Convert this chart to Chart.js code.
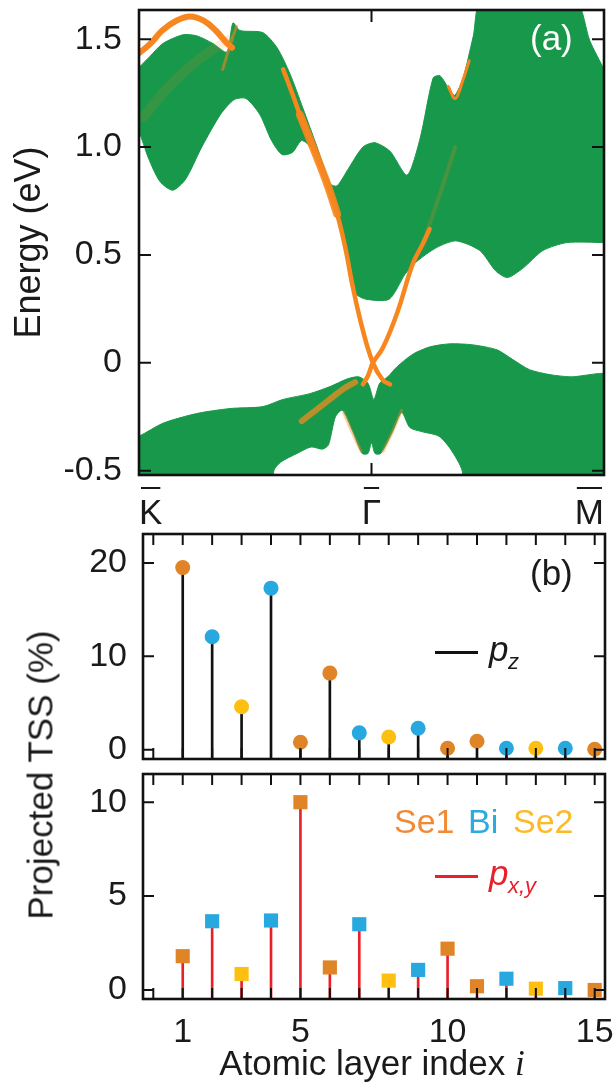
<!DOCTYPE html>
<html>
<head>
<meta charset="utf-8">
<script src="https://cdn.jsdelivr.net/npm/chart.js@4.4.1/dist/chart.umd.min.js"></script>
<style>
  html, body { margin: 0; padding: 0; background: #fff; }
  #wrap { position: relative; width: 614px; height: 1086px; overflow: hidden; font-family: "Liberation Sans", Arial, sans-serif; color: #1a1a1a; }
  canvas { position: absolute; left: 0; }
  .txt { position: absolute; white-space: nowrap; line-height: 1; z-index: 5; }
  .leg { position: absolute; height: 3px; width: 43px; z-index: 5; }
</style>
</head>
<body>
<div id="wrap">
  <canvas id="bandChart" width="614" height="530" style="top:0"></canvas>
  <canvas id="pzChart" width="614" height="250" style="top:520px"></canvas>
  <canvas id="pxyChart" width="614" height="326" style="top:760px"></canvas>

  <!-- panel labels and legends -->
  <div class="txt" style="left:530px;top:20px;font-size:35px;color:#fff">(a)</div>
  <div class="txt" style="left:530px;top:555px;font-size:35px">(b)</div>

  <div class="leg" style="left:435px;top:651px;background:#111"></div>
  <div class="txt" style="left:489px;top:631px;font-size:35px;font-style:italic">p</div>
  <div class="txt" style="left:508px;top:651px;font-size:22px;font-style:italic">z</div>

  <div class="txt" style="left:394px;top:804px;font-size:34px;color:#f28a35">Se1</div>
  <div class="txt" style="left:468px;top:804px;font-size:34px;color:#29abe2">Bi</div>
  <div class="txt" style="left:513px;top:804px;font-size:34px;color:#fdb927">Se2</div>

  <div class="leg" style="left:435px;top:875px;background:#e8202a"></div>
  <div class="txt" style="left:489px;top:855px;font-size:35px;font-style:italic;color:#e8202a">p</div>
  <div class="txt" style="left:508px;top:875px;font-size:22px;font-style:italic;color:#e8202a">x,y</div>

  <div class="txt" style="left:40px;top:775px;font-size:35px;transform:translate(-50%,-50%) rotate(-90deg)">Projected TSS (%)</div>
  <div class="txt" style="left:372px;top:1045px;font-size:35px;transform:translateX(-50%)">Atomic layer index <i style="font-family:'Liberation Serif',serif">i</i></div>
</div>

<script>
// ---- panel (a): band structure, k runs K(0) -> Gamma(1) -> M(2) ----
const kTicks = [0, 1, 2];
const kLabels = ['K', '\u0393', 'M'];   // high-symmetry points, drawn with an overbar
const energyTicks = [-0.5, 0, 0.5, 1.0, 1.5];
const energyLabels = ['-0.5', '0', '0.5', '1.0', '1.5'];

// bulk conduction continuum: upper edge (K->M) then lower edge (M->K)
const condTop = [[-0.05,1.33],[0,1.37],[0.047,1.42],[0.103,1.48],[0.189,1.52],[0.249,1.515],[0.318,1.48],[0.378,1.44],
  [0.404,1.575],[0.434,1.54],[0.533,1.53],[0.594,1.46],[0.649,1.34],[0.705,1.18],[0.766,1.0],[0.822,0.83],[0.852,0.82],
  [0.895,0.89],[0.963,1.0],[1.015,1.02],[1.08,0.98],[1.153,0.87],[1.209,1.04],[1.265,1.32],[1.295,1.33],[1.338,1.26],
  [1.359,1.24],[1.394,1.32],[1.437,1.51],[1.48,1.70],[1.867,1.70],[1.94,1.49],[2.0,1.36],[2.05,1.25]];
const condBottom = [[2.05,0.557],[2.0,0.557],[1.84,0.557],[1.737,0.52],[1.653,0.44],[1.585,0.395],[1.534,0.426],[1.466,0.52],
  [1.364,0.565],[1.28,0.534],[1.195,0.47],[1.144,0.41],[1.076,0.295],[0.975,0.295],[0.93,0.32],[0.912,0.36],[0.884,0.54],
  [0.85,0.69],[0.805,0.83],[0.745,0.99],[0.70,1.03],[0.66,0.975],[0.615,0.965],[0.57,1.03],[0.52,1.15],[0.46,1.225],
  [0.41,1.22],[0.35,1.15],[0.27,1.0],[0.2,0.85],[0.145,0.80],[0.09,0.84],[0.04,0.95],[0,1.07],[-0.05,1.15]];

// bulk valence continuum
const valTop = [[-0.05,-0.35],[0,-0.34],[0.103,-0.28],[0.249,-0.235],[0.391,-0.212],[0.533,-0.203],[0.619,-0.17],
  [0.735,-0.143],[0.822,-0.11],[0.895,-0.075],[0.945,-0.065],[0.985,-0.095],[1.01,-0.17],[1.035,-0.095],[1.07,-0.065],
  [1.11,-0.018],[1.178,0.04],[1.252,0.074],[1.338,0.088],[1.437,0.083],[1.54,0.06],[1.609,0.014],[1.68,-0.032],
  [1.768,-0.055],[1.854,-0.065],[2.05,-0.065]];
const valBottom = [[2.05,-0.65],[1.40,-0.65],[1.39,-0.50],[1.34,-0.40],[1.29,-0.34],[1.22,-0.32],[1.165,-0.30],[1.13,-0.23],
  [1.09,-0.32],[1.04,-0.42],[1.015,-0.42],[1.0,-0.37],[0.985,-0.42],[0.96,-0.42],[0.92,-0.32],[0.875,-0.22],[0.845,-0.25],
  [0.815,-0.38],[0.79,-0.40],[0.74,-0.39],[0.68,-0.42],[0.61,-0.46],[0.58,-0.5],[0.57,-0.65],[-0.05,-0.65]];

// surface-state weighted bands (orange)
const arcTop = [[-0.05,1.40],[0,1.435],[0.05,1.48],[0.1,1.54],[0.16,1.585],[0.22,1.605],[0.28,1.585],[0.33,1.54],[0.375,1.485],[0.40,1.46]];
const coneLeft = [[0.62,1.36],[0.662,1.24],[0.692,1.15],[0.748,1.0],[0.809,0.83],[0.852,0.69],[0.886,0.54],[0.92,0.35],[0.963,0.15],[1.006,0.0],[1.049,-0.08],[1.08,-0.1]];
const coneRight = [[0.963,-0.1],[0.985,-0.06],[1.006,0.0],[1.049,0.07],[1.11,0.23],[1.178,0.46],[1.22,0.55],[1.25,0.62]];
const coneGlow = [[0.692,1.15],[0.748,1.0],[0.809,0.83],[0.852,0.69]];
const dipM = [[1.33,1.28],[1.36,1.225],[1.39,1.30],[1.42,1.40]];
const faintLeft = [[0.02,1.14],[0.12,1.27],[0.25,1.40],[0.39,1.50]];
const spikeStrand = [[0.36,1.36],[0.40,1.50],[0.42,1.56]];
const valStrand = [[0.70,-0.27],[0.76,-0.22],[0.82,-0.17],[0.88,-0.12],[0.93,-0.09]];
const armLeft = [[0.88,-0.23],[0.92,-0.33],[0.955,-0.41]];
const armRight = [[1.13,-0.22],[1.09,-0.32],[1.05,-0.41]];
const faintRight = [[1.22,0.55],[1.30,0.80],[1.36,1.0]];

// ---- panel (b): projected TSS per atomic layer ----
const layers = [1,2,3,4,5,6,7,8,9,10,11,12,13,14,15];
const elements = ['Se1','Bi','Se2','Bi','Se1','Se1','Bi','Se2','Bi','Se1','Se1','Bi','Se2','Bi','Se1'];
const pzValues = [19.5,12.1,4.6,17.3,0.8,8.2,1.8,1.35,2.3,0.15,0.9,0.15,0.15,0.15,0.05];
const pxyValues = [1.8,3.66,0.85,3.7,10.0,1.2,3.5,0.5,1.07,2.2,0.2,0.6,0.07,0.1,0.0];
const layerTickLabels = [1,5,10,15];
const layerTickMarks = [0].concat(layers);
const pzTicks = [0,10,20];
const pxyTicks = [0,5,10];

const GREEN = '#18984a';
const ORANGE = '#f7861f';
const elementColors = { Se1: '#df8427', Bi: '#27a8df', Se2: '#fdc010' };
const FONT = "'Liberation Sans', Arial, sans-serif";

// frame around the plot area with inward ticks (both sides)
const framePlugin = {
  id: 'frame',
  afterDatasetsDraw(chart, args, opts) {
    const { ctx, chartArea: a, scales } = chart;
    const t = opts.tick || 11;
    ctx.save();
    ctx.strokeStyle = '#111';
    ctx.lineWidth = 2;
    ctx.beginPath();
    (opts.yTicks || []).forEach(v => {
      const y = scales.y.getPixelForValue(v);
      ctx.moveTo(a.left, y); ctx.lineTo(a.left + t, y);
      ctx.moveTo(a.right, y); ctx.lineTo(a.right - t, y);
    });
    (opts.xTicks || []).forEach(v => {
      const x = scales.x.getPixelForValue(v);
      ctx.moveTo(x, a.top); ctx.lineTo(x, a.top + t);
      ctx.moveTo(x, a.bottom); ctx.lineTo(x, a.bottom - t);
    });
    ctx.stroke();
    ctx.lineWidth = 2.6;
    ctx.strokeRect(a.left, a.top, a.right - a.left, a.bottom - a.top);
    ctx.restore();
  }
};

// bar over K, Gamma, M (labels are aligned 'inner': first left, last right)
const overbarPlugin = {
  id: 'overbar',
  afterDraw(chart) {
    const { ctx, chartArea: a } = chart;
    const s = chart.scales.x;
    ctx.save();
    ctx.font = '35px ' + FONT;
    ctx.strokeStyle = '#1a1a1a';
    ctx.lineWidth = 2;
    ctx.beginPath();
    kTicks.forEach((v, i) => {
      const w = ctx.measureText(kLabels[i]).width;
      const x = s.getPixelForValue(v);
      const x0 = i === 0 ? x : (i === kTicks.length - 1 ? x - w : x - w / 2);
      ctx.moveTo(x0 + 2, a.bottom + 13); ctx.lineTo(x0 + w - 2, a.bottom + 13);
    });
    ctx.stroke();
    ctx.restore();
  }
};

// keep the plot areas exactly where the figure has them
const fixWidth = w => s => { s.width = w; s.paddingTop = 0; s.paddingBottom = 0; };
const fixHeight = h => s => { s.height = h; s.paddingLeft = 0; s.paddingRight = 0; };

const pts = arr => arr.map(([x, y]) => ({ x, y }));
const region = (top, bottom) => ({
  data: pts(top.concat(bottom)), fill: 'shape', backgroundColor: GREEN, borderColor: GREEN,
  borderWidth: 1, pointRadius: 0, tension: 0.25, order: 5
});
const strand = (arr, color, width, order) => ({
  data: pts(arr), fill: false, borderColor: color, borderWidth: width, pointRadius: 0,
  tension: 0.4, borderCapStyle: 'round', order: order
});

new Chart(document.getElementById('bandChart'), {
  type: 'line',
  data: {
    datasets: [
      region(condTop, condBottom),
      region(valTop, valBottom),
      strand(faintLeft, 'rgba(247,134,31,0.13)', 10, 3),
      strand(spikeStrand, 'rgba(247,134,31,0.55)', 3, 3),
      strand(valStrand, 'rgba(252,140,28,0.7)', 6, 3),
      strand(armLeft, 'rgba(247,134,31,0.4)', 3, 3),
      strand(armRight, 'rgba(247,134,31,0.4)', 3, 3),
      strand(faintRight, 'rgba(247,134,31,0.22)', 4, 3),
      strand(coneGlow, 'rgba(247,134,31,0.9)', 8, 2),
      strand(dipM, ORANGE, 3, 1),
      strand(arcTop, ORANGE, 6, 1),
      strand(coneLeft, ORANGE, 4.5, 1),
      strand(coneRight, ORANGE, 4.5, 1)
    ]
  },
  options: {
    responsive: false, animation: false, events: [],
    layout: { autoPadding: false, padding: { top: 10, right: 10, left: 0, bottom: 0 } },
    plugins: { legend: { display: false }, tooltip: { enabled: false },
      frame: { yTicks: energyTicks, xTicks: [1], tick: 12 } },
    scales: {
      x: {
        type: 'linear', min: 0, max: 2,
        afterBuildTicks: s => { s.ticks = kTicks.map(v => ({ value: v })); },
        afterFit: fixHeight(55),
        grid: { display: false, drawTicks: false }, border: { display: false },
        ticks: { callback: (v, i) => kLabels[i], align: 'inner', maxRotation: 0, padding: 18,
          color: '#1a1a1a', font: { family: FONT, size: 35 } }
      },
      y: {
        min: -0.52, max: 1.635,
        afterBuildTicks: s => { s.ticks = energyTicks.map(v => ({ value: v })); },
        afterFit: fixWidth(139),
        grid: { display: false, drawTicks: false }, border: { display: false },
        ticks: { callback: (v, i) => energyLabels[i], padding: 17, color: '#1a1a1a', font: { family: FONT, size: 34 } },
        title: { display: true, text: 'Energy (eV)', color: '#1a1a1a', font: { family: FONT, size: 36 }, padding: { top: 8, bottom: 0 } }
      }
    }
  },
  plugins: [framePlugin, overbarPlugin]
});

function stemChart(id, values, cfg) {
  const points = layers.map((x, i) => ({ x, y: values[i] }));
  return new Chart(document.getElementById(id), {
    type: 'bar',
    data: {
      datasets: [
        { type: 'line', data: points, showLine: false, pointStyle: cfg.marker, pointRadius: cfg.radius,
          pointBackgroundColor: elements.map(e => elementColors[e]), pointBorderWidth: 0, order: 0 },
        { type: 'bar', data: points, base: cfg.min, backgroundColor: cfg.stem, barThickness: 2, order: 1 }
      ]
    },
    options: {
      responsive: false, animation: false, events: [],
      layout: { autoPadding: false, padding: { top: 14, right: 9, left: 0, bottom: 0 } },
      plugins: { legend: { display: false }, tooltip: { enabled: false },
        frame: { yTicks: cfg.yTicks, xTicks: layerTickMarks, tick: 11 } },
      scales: {
        x: {
          type: 'linear', min: -0.35, max: 15.35, offset: false,
          afterBuildTicks: s => { s.ticks = layerTickLabels.map(v => ({ value: v })); },
          afterFit: fixHeight(cfg.xHeight),
          grid: { display: false, drawTicks: false }, border: { display: false },
          ticks: { display: cfg.showX, maxRotation: 0, padding: 13, color: '#1a1a1a', font: { family: FONT, size: 34 } }
        },
        y: {
          min: cfg.min, max: cfg.max,
          afterBuildTicks: s => { s.ticks = cfg.yTicks.map(v => ({ value: v })); },
          afterFit: fixWidth(143),
          grid: { display: false, drawTicks: false }, border: { display: false },
          ticks: { padding: 16, color: '#1a1a1a', font: { family: FONT, size: 34 } }
        }
      }
    },
    plugins: [framePlugin]
  });
}

stemChart('pzChart', pzValues, { marker: 'circle', radius: 7.5, stem: '#111', min: -1.0, max: 23.1,
  yTicks: pzTicks, xHeight: 11, showX: false });
stemChart('pxyChart', pxyValues, { marker: 'rect', radius: 10, stem: '#e8202a', min: -0.48, max: 11.5,
  yTicks: pxyTicks, xHeight: 87, showX: true });
</script>
</body>
</html>
